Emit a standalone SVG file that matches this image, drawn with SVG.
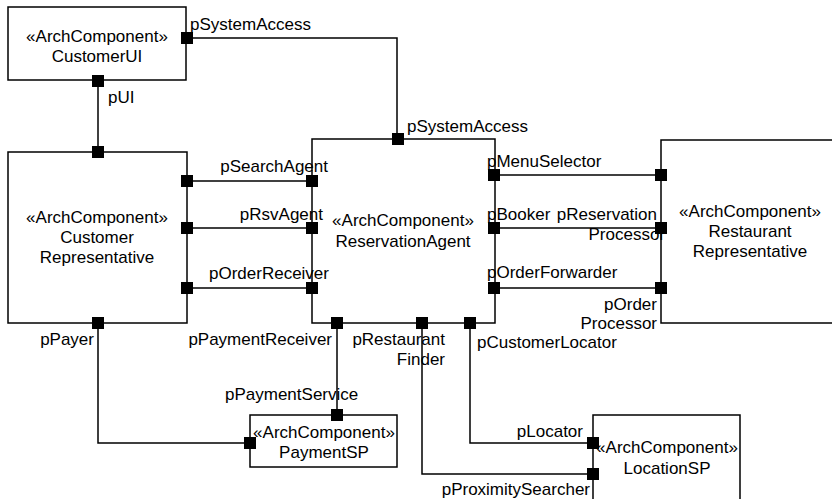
<svg xmlns="http://www.w3.org/2000/svg" width="832" height="499" viewBox="0 0 832 499">
  <style>
    .box { fill: #fff; stroke: #000; stroke-width: 1.5; }
    .port { fill: #000; }
    .wire { fill: none; stroke: #000; stroke-width: 1.5; }
    text { font-family: "Liberation Sans", Arial, sans-serif; font-size: 17px; fill: #000; }
    .c { text-anchor: middle; }
    .r { text-anchor: end; }
  </style>
  <defs>
    <rect id="sq" class="port" x="-6" y="-6" width="12" height="12"/>
  </defs>
  <rect width="832" height="499" fill="#fff"/>

  <!-- connectors -->
  <g id="connectors">
    <polyline class="wire" points="187,38 397,38 397,139"/>
    <line class="wire" x1="98" y1="80" x2="98" y2="152"/>
    <line class="wire" x1="187" y1="181" x2="312" y2="181"/>
    <line class="wire" x1="187" y1="228" x2="312" y2="228"/>
    <line class="wire" x1="187" y1="288" x2="312" y2="288"/>
    <line class="wire" x1="495" y1="175" x2="661" y2="175"/>
    <line class="wire" x1="495" y1="228" x2="661" y2="228"/>
    <line class="wire" x1="495" y1="288" x2="661" y2="288"/>
    <polyline class="wire" points="98,323 98,443 250,443"/>
    <line class="wire" x1="337" y1="323" x2="337" y2="415"/>
    <polyline class="wire" points="422,323 422,474 593,474"/>
    <polyline class="wire" points="470,323 470,443 593,443"/>
  </g>

  <!-- CustomerUI -->
  <g id="customerUI">
    <rect class="box" x="8" y="7" width="178" height="73"/>
    <text class="c" x="97" y="42">«ArchComponent»</text>
    <text class="c" x="97" y="62">CustomerUI</text>
    <use href="#sq" x="187" y="38"/>
    <use href="#sq" x="98" y="81"/>
    <text x="190" y="30">pSystemAccess</text>
    <text x="108" y="103">pUI</text>
  </g>

  <!-- Customer Representative -->
  <g id="customerRepresentative">
    <rect class="box" x="8" y="152" width="179" height="171"/>
    <text class="c" x="97" y="223">«ArchComponent»</text>
    <text class="c" x="97" y="243">Customer</text>
    <text class="c" x="97" y="263">Representative</text>
    <use href="#sq" x="98" y="152"/>
    <use href="#sq" x="187" y="181"/>
    <use href="#sq" x="187" y="228"/>
    <use href="#sq" x="187" y="288"/>
    <use href="#sq" x="98" y="323"/>
    <text class="r" x="94" y="345">pPayer</text>
  </g>

  <!-- ReservationAgent -->
  <g id="reservationAgent">
    <rect class="box" x="312" y="139" width="183" height="184"/>
    <text class="c" x="403" y="226">«ArchComponent»</text>
    <text class="c" x="403" y="247">ReservationAgent</text>
    <use href="#sq" x="398" y="139"/>
    <use href="#sq" x="312" y="181"/>
    <use href="#sq" x="312" y="228"/>
    <use href="#sq" x="312" y="288"/>
    <use href="#sq" x="494" y="175"/>
    <use href="#sq" x="494" y="228"/>
    <use href="#sq" x="494" y="288"/>
    <use href="#sq" x="337" y="323"/>
    <use href="#sq" x="422" y="323"/>
    <use href="#sq" x="470" y="323"/>
    <text x="407" y="132">pSystemAccess</text>
    <text class="r" x="328" y="172">pSearchAgent</text>
    <text class="r" x="323" y="220">pRsvAgent</text>
    <text class="r" x="329" y="279">pOrderReceiver</text>
    <text x="487" y="167">pMenuSelector</text>
    <text x="487" y="220">pBooker</text>
    <text x="487" y="278">pOrderForwarder</text>
    <text class="r" x="332" y="345">pPaymentReceiver</text>
    <text class="r" x="445" y="345">pRestaurant</text>
    <text class="r" x="445" y="365">Finder</text>
    <text x="477" y="348">pCustomerLocator</text>
  </g>

  <!-- Restaurant Representative -->
  <g id="restaurantRepresentative">
    <path class="box" d="M834,140 H661 V323 H834"/>
    <text class="c" x="750" y="217">«ArchComponent»</text>
    <text class="c" x="750" y="237">Restaurant</text>
    <text class="c" x="750" y="257">Representative</text>
    <use href="#sq" x="661" y="175"/>
    <use href="#sq" x="661" y="228"/>
    <use href="#sq" x="661" y="288"/>
    <text class="r" x="657" y="220">pReservation</text>
    <text class="r" x="665" y="240">Processor</text>
    <text class="r" x="657" y="310">pOrder</text>
    <text class="r" x="657" y="329">Processor</text>
  </g>

  <!-- PaymentSP -->
  <g id="paymentSP">
    <rect class="box" x="250" y="415" width="147" height="52"/>
    <text class="c" x="324" y="438">«ArchComponent»</text>
    <text class="c" x="324" y="458">PaymentSP</text>
    <use href="#sq" x="337" y="415"/>
    <use href="#sq" x="250" y="443"/>
    <text x="225" y="400">pPaymentService</text>
  </g>

  <!-- LocationSP -->
  <g id="locationSP">
    <path class="box" d="M593,501 V415 H740 V501"/>
    <text class="c" x="667" y="453">«ArchComponent»</text>
    <text class="c" x="667" y="474">LocationSP</text>
    <use href="#sq" x="593" y="443"/>
    <use href="#sq" x="593" y="474"/>
    <text class="r" x="583" y="437">pLocator</text>
    <text class="r" x="590" y="495">pProximitySearcher</text>
  </g>
</svg>
